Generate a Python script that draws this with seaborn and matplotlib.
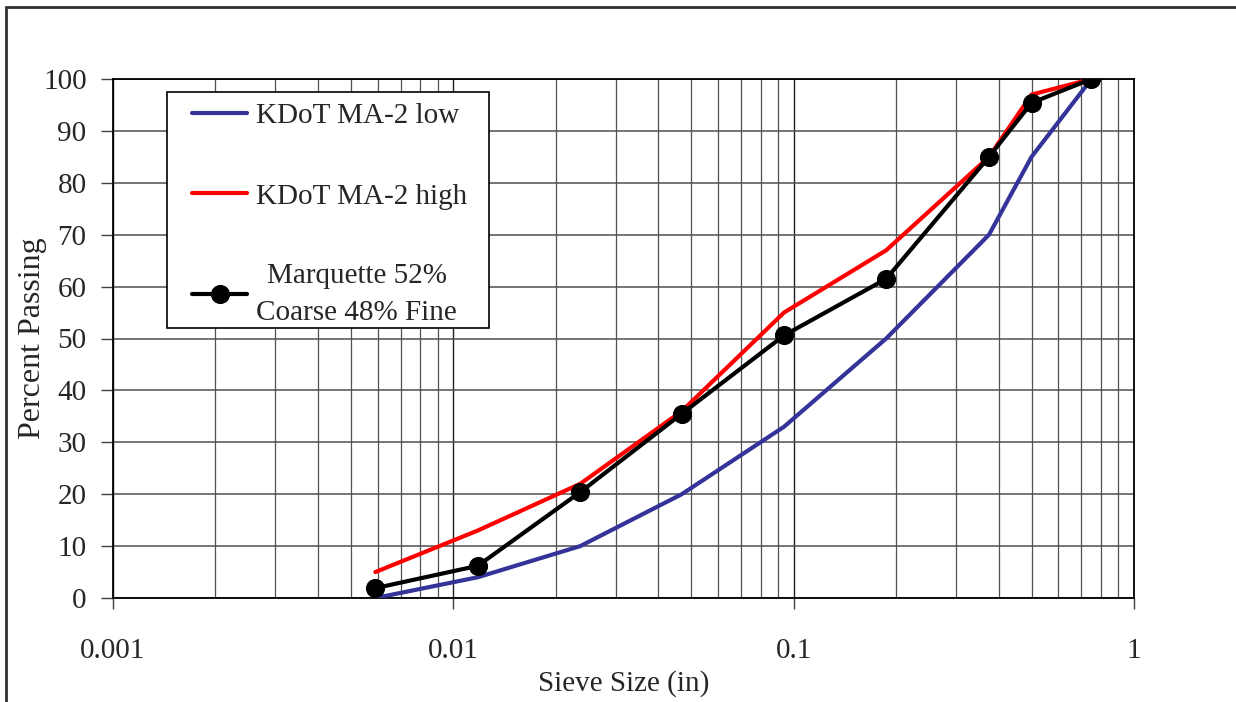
import matplotlib
matplotlib.use("Agg")
import matplotlib.pyplot as plt
import seaborn as sns
import pandas as pd
from matplotlib.lines import Line2D
from matplotlib.patches import Rectangle
from matplotlib.ticker import LogLocator, FixedLocator, NullFormatter

# ---- data ----
sieve_in = [0.0059, 0.0118, 0.0236, 0.0469, 0.0937, 0.187, 0.375, 0.5, 0.75]
kdot_low = [0, 4, 10, 20, 33, 50, 70, 85, 100]
kdot_high = [5, 13, 22, 36, 55, 67, 85, 97, 100]
marquette = [1.9, 6.2, 20.4, 35.5, 50.6, 61.5, 85.0, 95.4, 100]
series_labels = ["KDoT MA-2 low", "KDoT MA-2 high", "Marquette 52%\nCoarse 48% Fine"]
x_ticks = [0.001, 0.01, 0.1, 1]
x_tick_labels = ["0.001", "0.01", "0.1", "1"]
y_ticks = list(range(0, 101, 10))

sns.set_style("white")
plt.rcParams["font.family"] = ["Liberation Serif", "DejaVu Serif"]

W, H = 1236, 702
fig = plt.figure(figsize=(W / 100, H / 100), dpi=100)
AX_L, AX_R, AX_T, AX_B = 113, 1134, 79, 598
ax = fig.add_axes([AX_L / W, 1 - AX_B / H, (AX_R - AX_L) / W, (AX_B - AX_T) / H])


def px_to_axes(px, py):
    return (px - AX_L) / (AX_R - AX_L), (AX_B - py) / (AX_B - AX_T)


df_low = pd.DataFrame({"x": sieve_in, "y": kdot_low})
df_high = pd.DataFrame({"x": sieve_in, "y": kdot_high})
df_m = pd.DataFrame({"x": sieve_in, "y": marquette})

sns.lineplot(data=df_low, x="x", y="y", ax=ax, color="#333399", linewidth=3.0,
             label=series_labels[0], zorder=3)
sns.lineplot(data=df_high, x="x", y="y", ax=ax, color="#ff0000", linewidth=3.0,
             label=series_labels[1], zorder=4)
sns.lineplot(data=df_m, x="x", y="y", ax=ax, color="black", linewidth=3.0,
             marker="o", markersize=13, markeredgecolor="black",
             label=series_labels[2], zorder=5)

ax.set_xscale("log")
ax.set_xlim(0.001, 1)
ax.set_ylim(0, 100)

ax.xaxis.set_major_locator(FixedLocator(x_ticks))
ax.set_xticklabels(x_tick_labels)
ax.xaxis.set_minor_locator(LogLocator(base=10, subs=range(2, 10)))
ax.xaxis.set_minor_formatter(NullFormatter())
ax.set_yticks(y_ticks)

ax.grid(which="major", axis="x", color="#202020", linewidth=1.0)
ax.grid(which="major", axis="y", color="#505050", linewidth=1.1)
ax.grid(which="minor", axis="x", color="#505050", linewidth=0.9)
ax.set_axisbelow(True)

for s in ax.spines.values():
    s.set_color("black")
    s.set_linewidth(1.3)

ax.tick_params(axis="x", which="major", direction="out", length=8, width=1,
               color="#404040", labelsize=21, pad=21, bottom=True)
ax.tick_params(axis="x", which="minor", length=0)
ax.tick_params(axis="y", which="major", direction="out", length=9, width=1,
               color="#404040", labelsize=21, pad=10, left=True)

ax.set_xlabel("Sieve Size (in)", fontsize=21, labelpad=4)
ax.set_ylabel("Percent Passing", fontsize=23, labelpad=-3)

# legend frame box
bx0, by0 = px_to_axes(167, 328)
bx1, by1 = px_to_axes(489, 92)
ax.add_patch(Rectangle((bx0, by0), bx1 - bx0, by1 - by0, transform=ax.transAxes,
                       facecolor="white", edgecolor="black", linewidth=1.2, zorder=6))

lx, ly = px_to_axes(192, 103)
leg = ax.legend(loc="upper left", bbox_to_anchor=(lx, ly), borderaxespad=0,
                fontsize=21, frameon=False, handlelength=1.9, handletextpad=0.3,
                labelspacing=1.84, borderpad=0)
leg.set_zorder(7)
for t in leg.get_texts():
    t.set_multialignment("center")
    t.set_linespacing(1.55)

# outer chart-area frame (left and top edges visible)
fig.add_artist(Line2D([6 / W, 6 / W], [0, 1 - 7 / H], transform=fig.transFigure,
                      color="#303030", linewidth=2))
fig.add_artist(Line2D([6 / W, 1], [1 - 7 / H, 1 - 7 / H], transform=fig.transFigure,
                      color="#303030", linewidth=2))

fig.savefig("out.png", dpi=100)
